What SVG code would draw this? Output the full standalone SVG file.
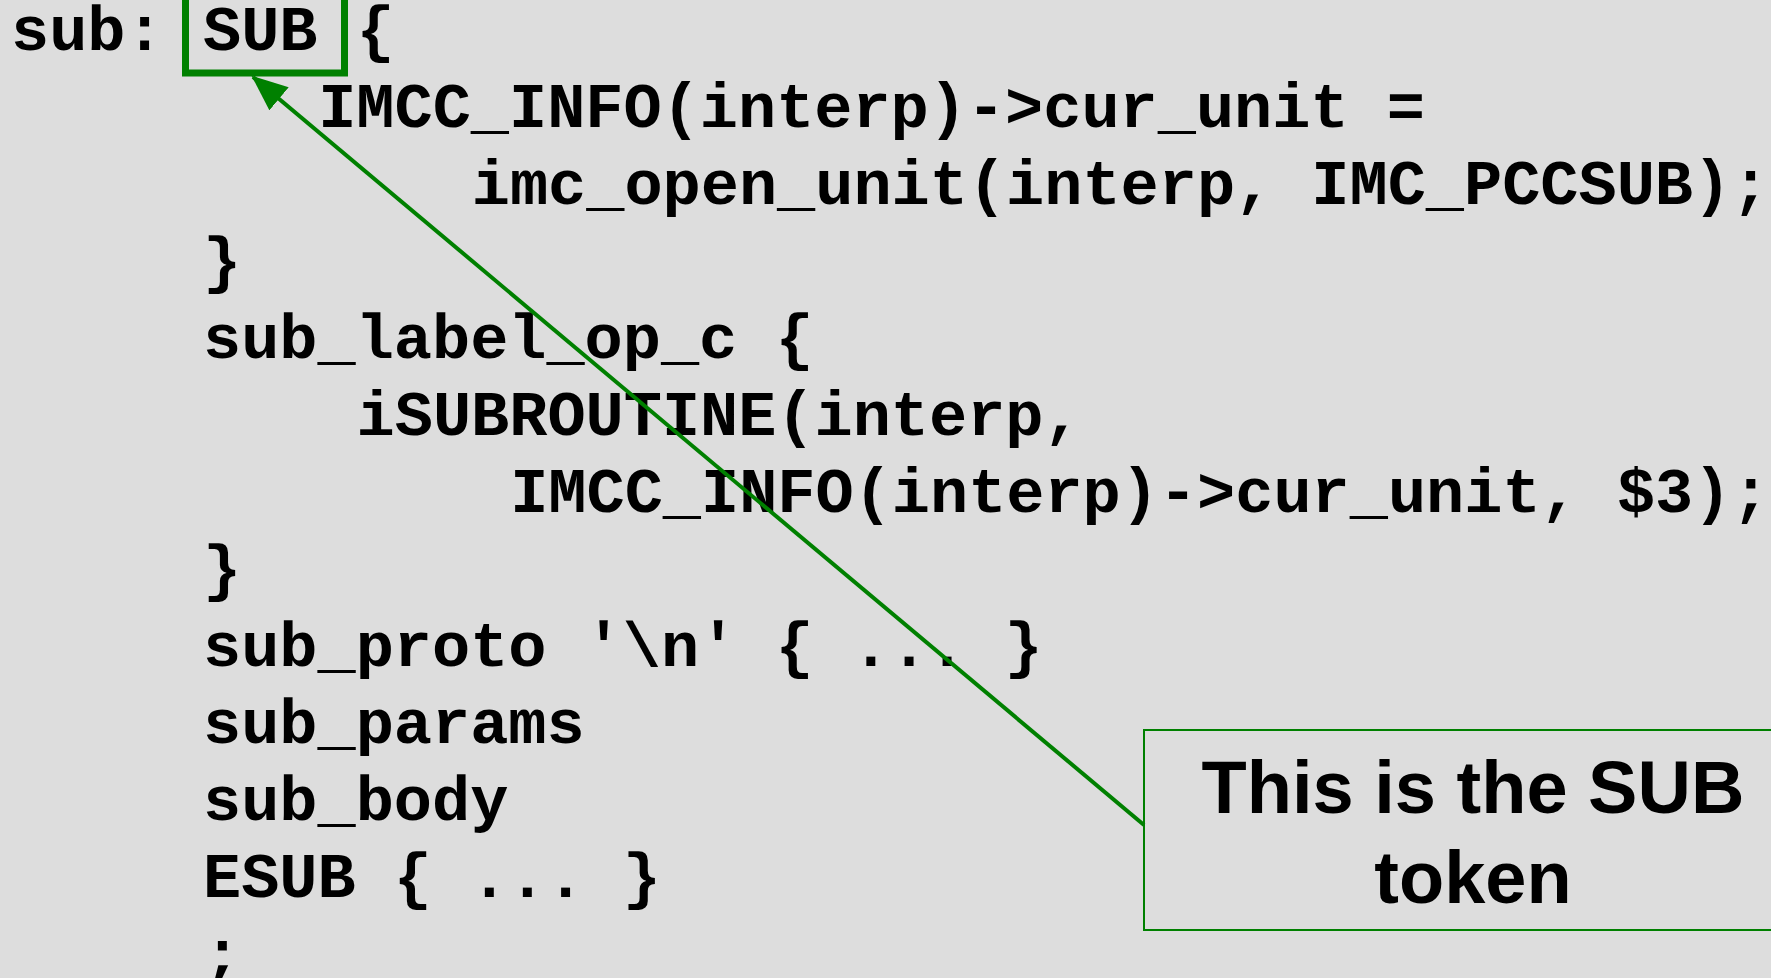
<svg xmlns="http://www.w3.org/2000/svg" width="1771" height="978" viewBox="0 0 1771 978">
<defs>
<style>
.code{font-family:"Liberation Mono","Courier New",monospace;font-weight:bold;font-size:63.6px;fill:#000}
.note{font-family:"Liberation Sans",Arial,sans-serif;font-weight:bold;font-size:74px;fill:#000;text-anchor:middle}
</style>
<marker id="ah" markerUnits="userSpaceOnUse" markerWidth="36" markerHeight="30" refX="34" refY="15" orient="auto">
<path d="M0,0 L36,15 L0,30 Z" fill="#008000"/>
</marker>
</defs>
<rect width="1771" height="978" fill="#dddddd"/>
<g id="code">
<text class="code" x="11" y="50">sub:</text>
<text class="code" x="356.6" y="50">{</text>
<text class="code" x="318.2" y="127">IMCC_INFO(interp)-&gt;cur_unit =</text>
<text class="code" x="471.8" y="204">imc_open_unit(interp, IMC_PCCSUB);</text>
<text class="code" x="203" y="281">}</text>
<text class="code" x="203" y="358">sub_label_op_c {</text>
<text class="code" x="356.6" y="435">iSUBROUTINE(interp,</text>
<text class="code" x="510.2" y="512">IMCC_INFO(interp)-&gt;cur_unit, $3);</text>
<text class="code" x="203" y="589">}</text>
<text class="code" x="203" y="666">sub_proto '\n' { ... }</text>
<text class="code" x="203" y="743">sub_params</text>
<text class="code" x="203" y="820">sub_body</text>
<text class="code" x="203" y="897">ESUB { ... }</text>
<text class="code" x="203" y="974">;</text>
</g>
<g id="sub-token">
<rect x="185.5" y="-10" width="159" height="83" fill="none" stroke="#008000" stroke-width="7"/>
<text class="code" x="203" y="50">SUB</text>
</g>
<g id="callout">
<rect x="1144" y="730" width="660" height="200" fill="#dddddd" stroke="#008000" stroke-width="2"/>
<text class="note" x="1473" y="813">This is the SUB</text>
<text class="note" x="1473" y="903">token</text>
</g>
<g id="connectors">
<line x1="1144" y1="825" x2="253" y2="77" stroke="#008000" stroke-width="4" marker-end="url(#ah)"/>
</g>
</svg>
